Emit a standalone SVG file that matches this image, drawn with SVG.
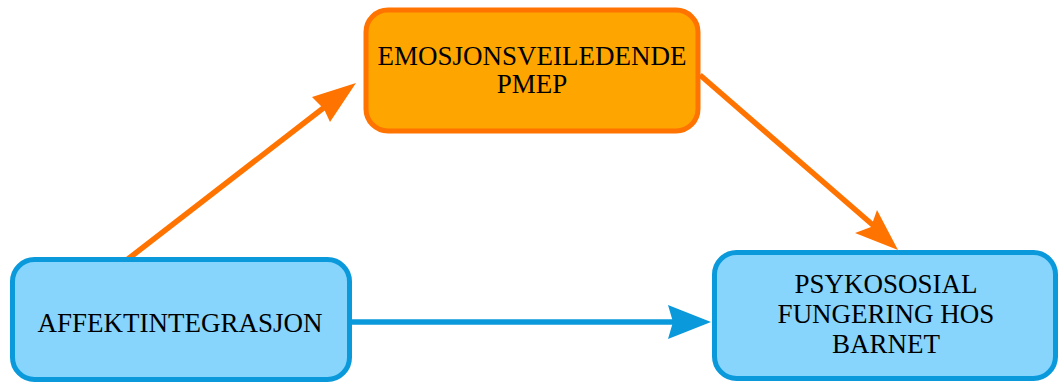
<svg xmlns="http://www.w3.org/2000/svg" width="1061" height="383" viewBox="0 0 1061 383">
<style>
.orange{fill:#FFA500;stroke:#FF7300;stroke-width:5}
.blue{fill:#87D4FD;stroke:#0A99DB;stroke-width:5}
.lbl{font-family:"Liberation Serif","Times New Roman",serif;font-size:27px;fill:#000;text-anchor:middle}
.oline{stroke:#FF7300;stroke-width:5.5;fill:none}
.bline{stroke:#0A99DB;stroke-width:5.5;fill:none}
.ohead{fill:#FF7300}
.bhead{fill:#0A99DB}
</style>
<rect width="1061" height="383" fill="#fff"/>
<g id="connectors">
<line class="oline" x1="128" y1="259" x2="326" y2="106"/>
<path class="ohead" d="M356,83 L330,122 L324,109 L312,97 Z"/>
<line class="oline" x1="700" y1="75" x2="874" y2="226"/>
<path class="ohead" d="M898,250 L855,233 L871,227 L877,210 Z"/>
<line class="bline" x1="352" y1="322" x2="675" y2="322"/>
<path class="bhead" d="M711,322 L668,305 L673,322 L668,339 Z"/>
</g>
<g id="node-emosjon">
<rect class="orange" x="366" y="10" width="332" height="121" rx="22"/>
<text class="lbl" x="532" y="65">EMOSJONSVEILEDENDE</text>
<text class="lbl" x="532" y="93">PMEP</text>
</g>
<g id="node-affekt">
<rect class="blue" x="12.5" y="259.5" width="337" height="120" rx="22"/>
<text class="lbl" x="180" y="332">AFFEKTINTEGRASJON</text>
</g>
<g id="node-psykososial">
<rect class="blue" x="714.5" y="252.5" width="341" height="126" rx="22"/>
<text class="lbl" x="886" y="293">PSYKOSOSIAL</text>
<text class="lbl" x="886" y="323">FUNGERING HOS</text>
<text class="lbl" x="886" y="353">BARNET</text>
</g>
</svg>
